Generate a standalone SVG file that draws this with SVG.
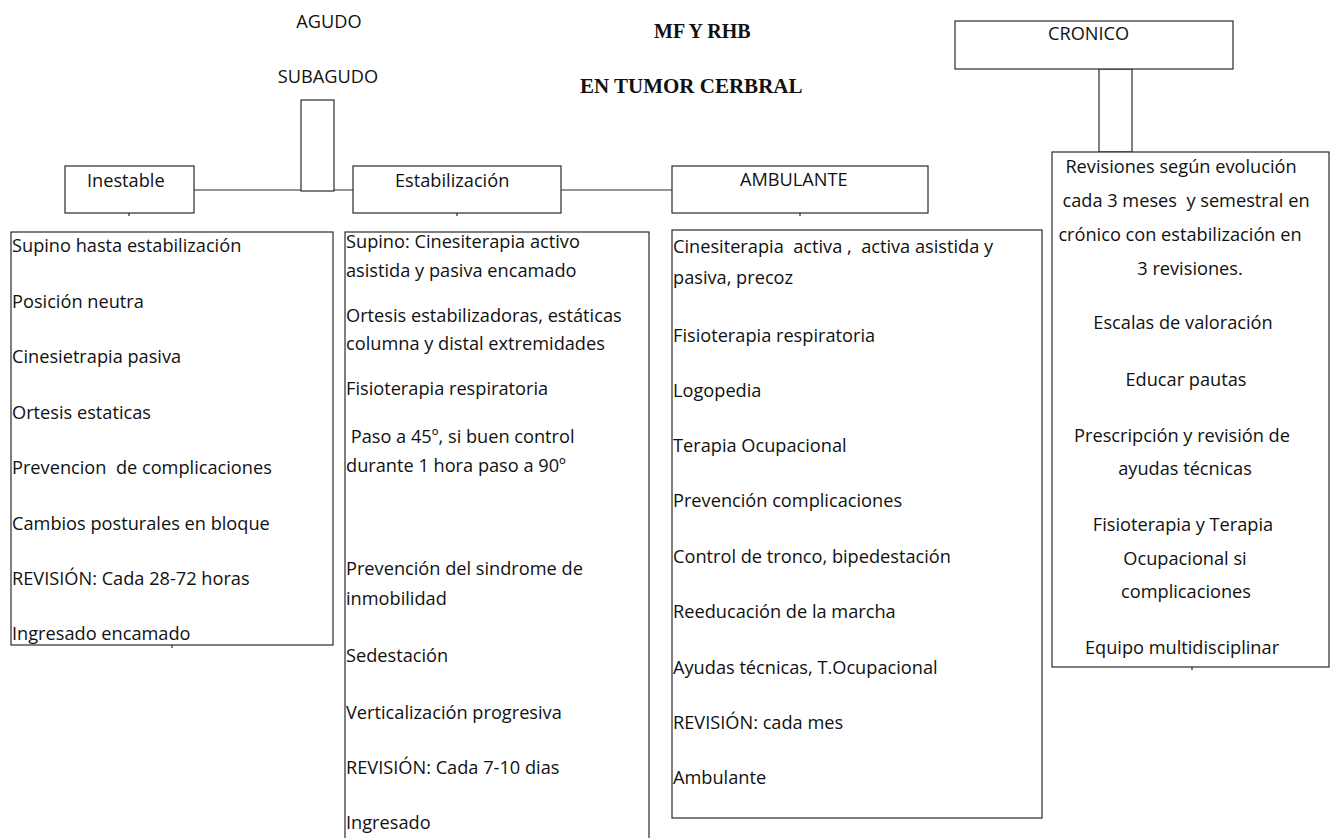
<svg xmlns="http://www.w3.org/2000/svg" width="1337" height="838" viewBox="0 0 1337 838">
<style>
  .bx{fill:#fff;stroke:#2b2b2b;stroke-width:1.2}
  .ln{fill:none;stroke:#2b2b2b;stroke-width:1.2}
  .t{font-family:"Open Sans","Liberation Sans",sans-serif;font-size:18.2px;fill:#111;white-space:pre}
  .c{text-anchor:middle}
  .h{font-family:"Liberation Serif","Times New Roman",serif;font-weight:bold;fill:#111}
</style>
<rect width="1337" height="838" fill="#fff"/>

<g id="titles">
  <text class="h" x="654" y="38" font-size="20">MF Y RHB</text>
  <text class="h" x="580" y="93" font-size="21">EN TUMOR CERBRAL</text>
  <text class="t c" x="329" y="28">AGUDO</text>
  <text class="t c" x="328" y="83">SUBAGUDO</text>
</g>

<g id="connectors">
  <line class="ln" x1="194" y1="190" x2="353" y2="190"/>
  <rect class="bx" x="301" y="100" width="33" height="91"/>
  <line class="ln" x1="561" y1="190" x2="672" y2="190"/>
  <rect class="bx" x="1099" y="69" width="33" height="83"/>
  <line class="ln" x1="129" y1="213" x2="129" y2="216"/>
  <line class="ln" x1="457" y1="213" x2="457" y2="216"/>
  <line class="ln" x1="800" y1="213" x2="800" y2="216"/>
  <line class="ln" x1="172" y1="645" x2="172" y2="648"/>
  <line class="ln" x1="1192" y1="667" x2="1192" y2="670"/>
</g>

<g id="inestable">
  <rect class="bx" x="65" y="166" width="129" height="47"/>
  <text class="t" x="87" y="187">Inestable</text>
</g>

<g id="estabilizacion">
  <rect class="bx" x="353" y="166" width="208" height="47"/>
  <text class="t" x="395" y="187">Estabilización</text>
</g>

<g id="ambulante">
  <rect class="bx" x="672" y="166" width="256" height="47"/>
  <text class="t" x="740" y="186">AMBULANTE</text>
</g>

<g id="cronico">
  <rect class="bx" x="955" y="21" width="278" height="48"/>
  <text class="t" x="1048" y="40">CRONICO</text>
</g>

<g id="inestable-detalle">
  <rect class="bx" x="11" y="232" width="322" height="413"/>
  <text class="t" x="12" y="252">Supino hasta estabilización</text>
  <text class="t" x="12" y="308">Posición neutra</text>
  <text class="t" x="12" y="363">Cinesietrapia pasiva</text>
  <text class="t" x="12" y="419">Ortesis estaticas</text>
  <text class="t" x="12" y="474">Prevencion  de complicaciones</text>
  <text class="t" x="12" y="530">Cambios posturales en bloque</text>
  <text class="t" x="12" y="585">REVISIÓN: Cada 28-72 horas</text>
  <text class="t" x="12" y="640">Ingresado encamado</text>
</g>

<g id="estabilizacion-detalle">
  <rect class="bx" x="345" y="232" width="304" height="620"/>
  <text class="t" x="346" y="248">Supino: Cinesiterapia activo</text>
  <text class="t" x="346" y="277">asistida y pasiva encamado</text>
  <text class="t" x="346" y="322">Ortesis estabilizadoras, estáticas</text>
  <text class="t" x="346" y="350">columna y distal extremidades</text>
  <text class="t" x="346" y="395">Fisioterapia respiratoria</text>
  <text class="t" x="346" y="443"> Paso a 45º, si buen control</text>
  <text class="t" x="346" y="472">durante 1 hora paso a 90º</text>
  <text class="t" x="346" y="575">Prevención del sindrome de</text>
  <text class="t" x="346" y="605">inmobilidad</text>
  <text class="t" x="346" y="662">Sedestación</text>
  <text class="t" x="346" y="719">Verticalización progresiva</text>
  <text class="t" x="346" y="774">REVISIÓN: Cada 7-10 dias</text>
  <text class="t" x="346" y="829">Ingresado</text>
</g>

<g id="ambulante-detalle">
  <rect class="bx" x="672" y="230" width="370" height="588"/>
  <text class="t" x="673" y="253">Cinesiterapia  activa ,  activa asistida y</text>
  <text class="t" x="673" y="284">pasiva, precoz</text>
  <text class="t" x="673" y="342">Fisioterapia respiratoria</text>
  <text class="t" x="673" y="397">Logopedia</text>
  <text class="t" x="673" y="452">Terapia Ocupacional</text>
  <text class="t" x="673" y="507">Prevención complicaciones</text>
  <text class="t" x="673" y="563">Control de tronco, bipedestación</text>
  <text class="t" x="673" y="618">Reeducación de la marcha</text>
  <text class="t" x="673" y="674">Ayudas técnicas, T.Ocupacional</text>
  <text class="t" x="673" y="729">REVISIÓN: cada mes</text>
  <text class="t" x="673" y="784">Ambulante</text>
</g>

<g id="cronico-detalle">
  <rect class="bx" x="1052" y="152" width="277" height="515"/>
  <text class="t c" x="1181" y="173">Revisiones según evolución</text>
  <text class="t c" x="1186" y="207">cada 3 meses  y semestral en</text>
  <text class="t c" x="1180" y="241">crónico con estabilización en</text>
  <text class="t c" x="1190" y="275">3 revisiones.</text>
  <text class="t c" x="1183" y="329">Escalas de valoración</text>
  <text class="t c" x="1186" y="386">Educar pautas</text>
  <text class="t c" x="1182" y="442">Prescripción y revisión de</text>
  <text class="t c" x="1185" y="475">ayudas técnicas</text>
  <text class="t c" x="1183" y="531">Fisioterapia y Terapia</text>
  <text class="t c" x="1185" y="565">Ocupacional si</text>
  <text class="t c" x="1186" y="598">complicaciones</text>
  <text class="t c" x="1182" y="654">Equipo multidisciplinar</text>
</g>
</svg>
